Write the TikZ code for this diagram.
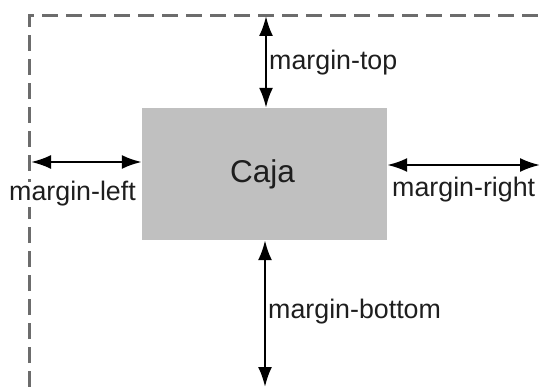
\documentclass[tikz,border=0pt]{standalone}
\usepackage{fontspec}
\setmainfont{Liberation Sans}
\usetikzlibrary{arrows.meta,positioning}
\definecolor{cajagray}{RGB}{192,192,192}
\definecolor{bordergray}{RGB}{108,108,108}
\definecolor{textgray}{RGB}{30,30,30}
\begin{document}
\begin{tikzpicture}[x=1pt,y=-1pt,
    margen/.style={line width=2.4pt,{Latex[length=20pt,width=14pt]}-{Latex[length=20pt,width=14pt]}},
    etiqueta/.style={font=\fontsize{26.8}{30}\selectfont,text=textgray,inner sep=0pt,anchor=base west}]
    \useasboundingbox (0,0) rectangle (540,387);

    % borde del contenedor
    \draw[bordergray,line width=3pt,dash pattern=on 16pt off 8pt]
    (29.3,387) -- (29.3,15.7) -- (540,15.7);

    \node[fill=cajagray,minimum width=245pt,minimum height=132pt,inner sep=0pt] (caja) at (264.5,174) {};
    \node[font=\fontsize{31.5}{36}\selectfont,text=textgray] (cajatxt) at ([xshift=-2pt]caja.center) {Caja};

    \coordinate (top) at (266,16);
    \coordinate (left) at (31,162);
    \coordinate (right) at (540,165);
    \coordinate (bottom) at (265,387);

    \draw[margen] (top) -- (top |- caja.north);
    \draw[margen] (left) -- (left -| caja.west);
    \draw[margen] (right -| caja.east) -- (right);
    \draw[margen] (bottom |- caja.south) -- (bottom);

    \node[etiqueta] (mtop) at (269,70) {margin-top};
    \node[etiqueta,fill=white] (mleft) at (9,201) {margin-left};
    \node[etiqueta] (mright) at (392,197) {margin-right};
    \node[etiqueta] (mbottom) at (268,318) {margin-bottom};
\end{tikzpicture}
\end{document}
